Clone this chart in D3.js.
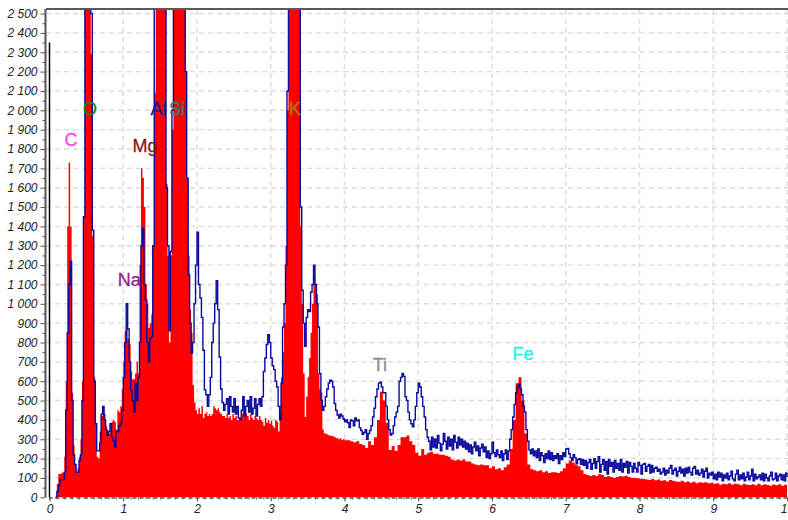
<!DOCTYPE html>
<html lang="en">
	<head>
		<meta charset="UTF-8" />
		<title>EDS spectrum</title>
		<script src="https://d3js.org/d3.v7.min.js"></script>
		<style>
			html, body {
				margin: 0;
				background: #fff;
			}
			svg {
				display: block;
			}
			.grid line {
				stroke: #dcdcdc;
				stroke-width: 1.4px;
				stroke-dasharray: 5 4;
			}
			.axis text {
				font: italic 12px 'Liberation Sans', Arial, sans-serif;
				fill: #222;
			}
			.axis line, .axis path {
				stroke: #555;
			}
			.element {
				font: 18px 'Liberation Sans', Arial, sans-serif;
				text-anchor: middle;
				stroke-width: 0.3px;
			}
		</style>
	</head>
	<body>
		<svg width="788" height="520"></svg>
		<script>
			// energy channels in keV: 0.02 wide below 4 keV, then red is read coarser than blue
			const energyLow = d3.range(4, 201).map((i) => i * 0.02);
			const energyRedHigh = d3.range(101, 251).map((i) => i * 0.04);
			const energyBlueHigh = d3.range(201, 501).map((i) => i * 0.02);

			const redLow = [
				0, 70, 120, 120, 125, 130, 210, 600, 1400, 1730,
				1400, 540, 270, 170, 130, 150, 210, 300, 600, 1450,
				2900, 3100, 3200, 3000, 2290, 1350, 620, 380, 210, 200,
				340, 420, 470, 430, 370, 340, 330, 340, 390, 400,
				390, 350, 450, 440, 470, 560, 700, 860, 870, 820,
				790, 650, 610, 610, 640, 700, 640, 1200, 1700, 1650,
				1500, 1100, 1000, 875, 900, 945, 1300, 2090, 2900, 3100,
				3200, 3300, 3300, 3200, 2900, 1620, 1250, 800, 1250, 1900,
				3200, 3400, 3500, 3500, 3400, 3300, 3200, 3000, 2200, 1650,
				1250, 970, 850, 580, 490, 450, 430, 460, 430, 470,
				410, 430, 440, 420, 430, 420, 430, 470, 460, 450,
				460, 440, 430, 420, 420, 410, 430, 410, 420, 400,
				430, 410, 420, 400, 400, 410, 430, 450, 440, 430,
				420, 400, 430, 410, 400, 420, 410, 400, 420, 400,
				390, 370, 410, 385, 400, 380, 395, 370, 360, 400,
				390, 340, 430, 620, 750, 900, 1300, 2000, 2900, 3300,
				3500, 3500, 3500, 3400, 3200, 2900, 1400, 1000, 640, 415,
				520, 620, 720, 850, 1000, 1140, 1100, 1050, 640, 560,
				540, 350, 330, 330, 325, 320, 320, 315, 315, 310,
				305, 305, 300, 305, 295, 300, 295
			];
			const redHigh = [
				295, 290, 285, 290, 275, 270, 255, 290, 270, 310,
				400, 545, 500, 385, 245, 265, 240, 270, 310, 310,
				320, 290, 270, 230, 215, 250, 220, 230, 235, 225,
				225, 220, 220, 215, 210, 195, 190, 195, 190, 195,
				185, 185, 175, 170, 165, 170, 165, 165, 150, 160,
				145, 150, 140, 155, 170, 250, 400, 590, 620, 500,
				330, 170, 145, 140, 135, 140, 130, 135, 125, 130,
				130, 125, 135, 150, 175, 190, 180, 170, 160, 140,
				120, 115, 110, 115, 110, 120, 115, 105, 110, 105,
				100, 105, 110, 108, 112, 105, 100, 100, 98, 95,
				95, 92, 90, 95, 88, 92, 85, 88, 82, 90,
				85, 82, 80, 85, 78, 82, 75, 80, 72, 78,
				75, 78, 72, 75, 70, 72, 65, 70, 68, 72,
				66, 70, 68, 62, 70, 65, 64, 68, 62, 70,
				62, 68, 64, 60, 66, 62, 68, 60, 65, 62
			];
			const blueLow = [
				0, 30, 60, 90, 90, 90, 130, 450, 850, 1100,
				1220, 500, 220, 170, 130, 130, 190, 220, 500, 1450,
				2900, 3100, 3200, 3000, 2500, 1380, 600, 380, 240, 240,
				280, 430, 470, 400, 350, 320, 340, 380, 310, 290,
				260, 340, 340, 370, 380, 450, 620, 800, 1000, 870,
				700, 550, 500, 440, 590, 500, 620, 800, 1300, 1390,
				1100, 1020, 800, 700, 820, 830, 1300, 3000, 3100, 3200,
				3300, 3300, 3300, 3300, 3200, 1600, 1300, 860, 1270, 2000,
				3300, 3400, 3500, 3500, 3500, 3400, 3300, 3200, 2200, 1650,
				1150, 900, 745, 800, 1000, 1200, 1370, 1100, 1030, 930,
				760, 555, 530, 470, 530, 620, 800, 900, 1000, 1120,
				970, 725, 560, 490, 450, 480, 510, 430, 520, 470,
				440, 510, 430, 470, 410, 400, 450, 520, 420, 470,
				500, 440, 520, 430, 460, 510, 420, 480, 510, 470,
				520, 650, 720, 790, 840, 800, 720, 680, 660, 600,
				570, 470, 400, 590, 880, 1000, 1200, 2100, 3000, 3300,
				3500, 3500, 3500, 3400, 3200, 3000, 1500, 1070, 900, 780,
				930, 970, 960, 1060, 1100, 1200, 1100, 1000, 880, 640,
				500, 450, 470, 520, 560, 590, 605, 600, 570, 485,
				450, 425, 410, 430, 420, 405, 390
			];
			const blueHigh = [
				400, 385, 360, 400, 395, 370, 410, 395, 400, 360,
				345, 325, 335, 350, 300, 330, 345, 370, 415, 460,
				520, 560, 590, 595, 570, 540, 540, 470, 400, 350,
				322, 330, 370, 415, 440, 470, 600, 620, 640, 625,
				520, 500, 440, 400, 380, 365, 400, 470, 540, 590,
				570, 520, 470, 415, 350, 310, 290, 245, 310, 260,
				300, 255, 320, 280, 240, 275, 330, 290, 250, 310,
				265, 300, 245, 320, 285, 255, 310, 270, 300, 260,
				290, 250, 280, 235, 270, 225, 260, 285, 240, 265,
				215, 255, 275, 235, 260, 205, 240, 200, 225, 285,
				230, 210, 245, 220, 205, 240, 190, 225, 245, 195,
				240, 300, 350, 415, 480, 540, 570, 585, 560, 530,
				470, 440, 350, 290, 245, 225, 250, 215, 240, 205,
				250, 190, 230, 215, 180, 225, 200, 240, 195, 230,
				190, 215, 200, 225, 175, 215, 195, 230, 210, 250,
				253, 225, 205, 190, 220, 205, 175, 195, 200, 170,
				195, 165, 190, 150, 180, 195, 145, 175, 200, 150,
				185, 210, 130, 170, 195, 140, 185, 120, 195, 160,
				180, 130, 190, 150, 175, 140, 195, 130, 175, 155,
				185, 125, 180, 160, 130, 175, 150, 130, 180, 165,
				120, 170, 175, 135, 160, 170, 125, 165, 130, 150,
				155, 135, 145, 120, 130, 150, 115, 140, 125, 150,
				165, 120, 140, 150, 110, 135, 155, 125, 145, 110,
				150, 125, 155, 130, 115, 150, 160, 120, 140, 115,
				125, 145, 105, 135, 150, 100, 125, 115, 130, 95,
				120, 90, 130, 105, 125, 85, 115, 100, 125, 90,
				110, 135, 95, 85, 120, 140, 90, 115, 95, 125,
				85, 105, 130, 90, 110, 145, 85, 120, 95, 105,
				115, 90, 125, 85, 120, 100, 85, 110, 130, 90,
				95, 125, 85, 110, 120, 90, 115, 85, 125, 105
			];

			const zeroPeak = 2350;
			const elements = ['C', 'O', 'Na', 'Mg', 'Al', 'Si', 'K', 'Ti', 'Fe'];
			const elementEnergy = [0.29, 0.55, 1.08, 1.295, 1.478, 1.73, 3.33, 4.48, 6.42];
			const elementCounts = [1815, 1975, 1090, 1785, 1975, 1975, 1975, 655, 708];
			const elementColors = ['#ff40ff', '#0b8a0b', '#8a2a8a', '#8b1a1a', '#1a1a9a', '#0f8a8a', '#a08000', '#8c8c8c', '#20f0f0'];

			const svg = d3.select('svg');
			const x = d3.scaleLinear().domain([0, 10]).range([49.5, 787]);
			const y = d3.scaleLinear().domain([0, 2520]).range([497.3, 9.7]);

			const redCounts = redLow.concat(redHigh);
			const blueCounts = blueLow.concat(blueHigh);
			const red = energyLow.concat(energyRedHigh).map((e, i) => [e, redCounts[i]]);
			const blue = energyLow.concat(energyBlueHigh).map((e, i) => [e, blueCounts[i]]);

			svg.append('clipPath')
				.attr('id', 'plot')
				.append('rect')
				.attr('x', 46)
				.attr('y', 10)
				.attr('width', 742)
				.attr('height', 488);

			const grid = svg.append('g').attr('class', 'grid');
			grid.selectAll('.h')
				.data(d3.range(100, 2501, 100))
				.enter()
				.append('line')
				.attr('class', 'h')
				.attr('x1', 46)
				.attr('x2', 788)
				.attr('y1', (d) => y(d))
				.attr('y2', (d) => y(d));
			grid.selectAll('.v')
				.data(d3.range(1, 11))
				.enter()
				.append('line')
				.attr('class', 'v')
				.attr('x1', (d) => x(d))
				.attr('x2', (d) => x(d))
				.attr('y1', 10)
				.attr('y2', 497);

			const plot = svg.append('g').attr('clip-path', 'url(#plot)');
			plot.append('path')
				.datum(red)
				.attr('fill', '#ff0000')
				.attr('d', d3.area().curve(d3.curveStepAfter).x((d) => x(d[0])).y0(y(0)).y1((d) => y(d[1])));
			plot.append('path')
				.datum(blue)
				.attr('fill', 'none')
				.attr('stroke', '#0a0a9c')
				.attr('stroke-width', 1.4)
				.attr('d', d3.line().curve(d3.curveStepAfter).x((d) => x(d[0])).y((d) => y(d[1])));
			plot.append('line')
				.attr('x1', x(0))
				.attr('x2', x(0))
				.attr('y1', y(0))
				.attr('y2', y(zeroPeak))
				.attr('stroke', '#000')
				.attr('stroke-width', 1.5);

			// minor ticks first, then the labelled ones on top
			svg.append('g')
				.attr('class', 'axis')
				.attr('transform', 'translate(45.5,0)')
				.call(d3.axisLeft(y).tickValues(d3.range(50, 2500, 100)).tickSize(3).tickFormat(''))
				.select('.domain')
				.remove();
			const yAxis = svg.append('g')
				.attr('class', 'axis')
				.attr('transform', 'translate(45.5,0)')
				.call(d3.axisLeft(y)
					.tickValues(d3.range(0, 2501, 100))
					.tickSize(5)
					.tickFormat((d) => d3.format(',')(d).replace(',', ' ')));
			yAxis.select('.domain').attr('stroke-width', 2).attr('d', `M0,${y(0)}V9`);

			svg.append('g')
				.attr('class', 'axis')
				.attr('transform', 'translate(0,497.5)')
				.call(d3.axisBottom(x).tickValues(d3.range(0, 10, 0.1)).tickSize(2).tickFormat(''))
				.select('.domain')
				.attr('stroke-dasharray', '4 3')
				.attr('stroke-width', 1.5);
			svg.append('g')
				.attr('class', 'axis')
				.attr('transform', 'translate(0,497.5)')
				.call(d3.axisBottom(x).tickValues(d3.range(0, 11)).tickSize(4).tickPadding(3).tickFormat(d3.format('d')))
				.select('.domain')
				.remove();

			svg.append('line')
				.attr('x1', 46)
				.attr('x2', 788)
				.attr('y1', 9)
				.attr('y2', 9)
				.attr('stroke', '#222')
				.attr('stroke-width', 1.6);

			svg.selectAll('.element')
				.data(elements)
				.enter()
				.append('text')
				.attr('class', 'element')
				.attr('x', (d, i) => x(elementEnergy[i]))
				.attr('y', (d, i) => y(elementCounts[i]))
				.attr('fill', (d, i) => elementColors[i])
				.attr('stroke', (d, i) => elementColors[i])
				.text((d) => d);
		</script>
	</body>
</html>
